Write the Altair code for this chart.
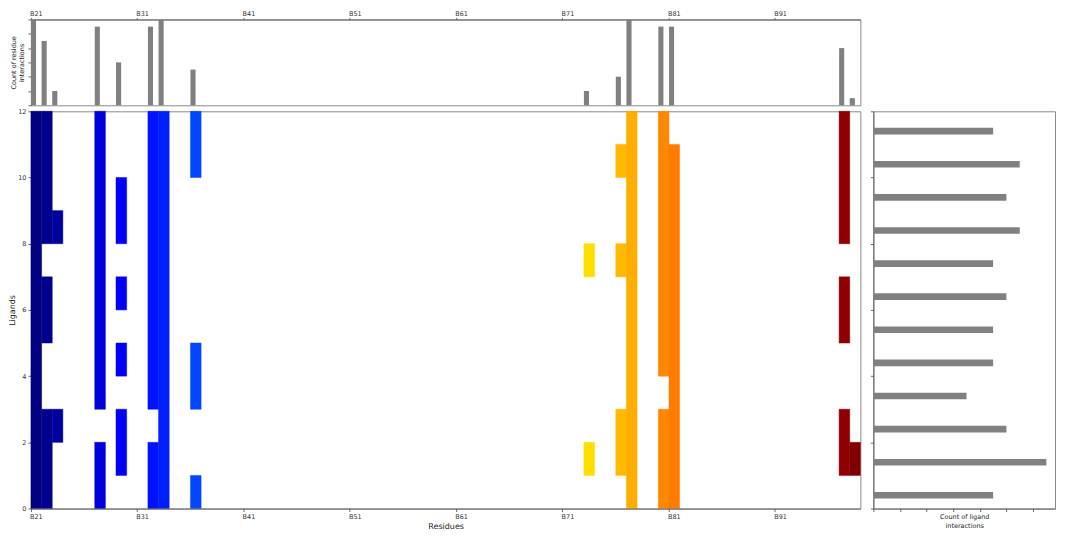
import altair as alt
import numpy as np
import pandas as pd

# ---------------- data ----------------
all_residues = [f"B{n}" for n in range(21, 99)]          # residue axis B21..B98
tick_labels = ["B21", "B31", "B41", "B51", "B61", "B71", "B81", "B91"]

interacting_residues = ["B21", "B22", "B23", "B27", "B29", "B32", "B33", "B36",
                        "B73", "B76", "B77", "B80", "B81", "B97", "B98"]
ligand_sets = [
    [0, 1, 2, 3, 4, 5, 6, 7, 8, 9, 10, 11],
    [0, 1, 2, 5, 6, 8, 9, 10, 11],
    [2, 8],
    [0, 1, 3, 4, 5, 6, 7, 8, 9, 10, 11],
    [1, 2, 4, 6, 8, 9],
    [0, 1, 3, 4, 5, 6, 7, 8, 9, 10, 11],
    [0, 1, 2, 3, 4, 5, 6, 7, 8, 9, 10, 11],
    [0, 3, 4, 10, 11],
    [1, 7],
    [1, 2, 7, 10],
    [0, 1, 2, 3, 4, 5, 6, 7, 8, 9, 10, 11],
    [0, 1, 2, 4, 5, 6, 7, 8, 9, 10, 11],
    [0, 1, 2, 3, 4, 5, 6, 7, 8, 9, 10],
    [1, 2, 5, 6, 8, 9, 10, 11],
    [1],
]
residue_counts = [12, 9, 2, 11, 6, 11, 12, 5, 2, 4, 12, 11, 11, 8, 1]

ligands = list(range(12))
ligand_counts = [9, 13, 10, 7, 9, 9, 10, 9, 11, 10, 11, 9]

# ---------------- styling helpers ----------------
def jet(t):
    r = np.interp(t, [0, 0.35, 0.66, 0.89, 1], [0, 0, 1, 1, 0.5])
    g = np.interp(t, [0, 0.125, 0.375, 0.64, 0.91, 1], [0, 0, 1, 1, 0, 0])
    b = np.interp(t, [0, 0.11, 0.34, 0.65, 1], [0.5, 1, 1, 0, 0])
    return "#%02x%02x%02x" % (int(round(r * 255)), int(round(g * 255)), int(round(b * 255)))

n_res = len(all_residues)
jet_colors = [jet(i / (n_res - 1)) for i in range(n_res)]

W_MAIN = 831
H_MAIN = 398
H_TOP = 86
W_RIGHT = 182
band = W_MAIN / n_res
BAR_FRAC = 0.48

# merge consecutive ligand rows into runs (avoids seams between cells)
heat_rows = []
for res, ligs in zip(interacting_residues, ligand_sets):
    start = prev = ligs[0]
    for lg in ligs[1:] + [None]:
        if lg is not None and lg == prev + 1:
            prev = lg
            continue
        heat_rows.append({"residue": res, "y0": start, "y1": prev + 1})
        if lg is not None:
            start = prev = lg
heat_df = pd.DataFrame(heat_rows)
top_df = pd.DataFrame({"residue": interacting_residues, "count": residue_counts})
right_df = pd.DataFrame({"ligand": ligands, "count": ligand_counts})

x_scale = alt.Scale(domain=all_residues, paddingInner=0, paddingOuter=0)
color_scale = alt.Scale(domain=all_residues, range=jet_colors)
even_ticks = [0, 2, 4, 6, 8, 10, 12]

# ---------------- top: residue interaction counts ----------------
top = alt.Chart(top_df).mark_bar(
    color="#808080",
    width=alt.RelativeBandSize(BAR_FRAC),
    xOffset=-(0.5 - BAR_FRAC / 2) * band,
).encode(
    x=alt.X("residue:N", scale=x_scale,
            axis=alt.Axis(orient="top", values=tick_labels, bandPosition=0,
                          labelAngle=0, title=None, tickSize=2, labelPadding=1)),
    y=alt.Y("count:Q", scale=alt.Scale(domain=[0, 12], nice=False),
            axis=alt.Axis(values=even_ticks, labels=False,
                          title=["Count of residue", "interactions"],
                          titleFontSize=6.5, titlePadding=3)),
).properties(width=W_MAIN, height=H_TOP)

# ---------------- main heatmap ----------------
main = alt.Chart(heat_df).mark_rect(opacity=1, strokeWidth=0.5).encode(
    x=alt.X("residue:N", scale=x_scale,
            axis=alt.Axis(values=tick_labels, bandPosition=0, labelAngle=0,
                          title="Residues")),
    y=alt.Y("y0:Q", scale=alt.Scale(domain=[0, 12], nice=False),
            axis=alt.Axis(values=even_ticks, title="Ligands", titlePadding=1)),
    y2="y1:Q",
    color=alt.Color("residue:N", scale=color_scale, legend=None),
    stroke=alt.Stroke("residue:N", scale=color_scale, legend=None),
).properties(width=W_MAIN, height=H_MAIN)

# ---------------- right: ligand interaction counts ----------------
right = alt.Chart(right_df).transform_calculate(
    y0="datum.ligand + 0.3", y1="datum.ligand + 0.5", zero="0"
).mark_rect(color="#808080").encode(
    x=alt.X("count:Q", scale=alt.Scale(domain=[0, 13.65], nice=False),
            axis=alt.Axis(values=even_ticks, labels=False,
                          title=["Count of ligand", "interactions"],
                          titleFontSize=6.5)),
    x2="zero:Q",
    y=alt.Y("y0:Q", scale=alt.Scale(domain=[0, 12], nice=False),
            axis=alt.Axis(values=even_ticks, labels=False, title=None)),
    y2="y1:Q",
).properties(width=W_RIGHT, height=H_MAIN)

chart = alt.vconcat(
    top,
    alt.hconcat(main, right, spacing=13, bounds="flush"),
    spacing=6,
    bounds="flush",
).properties(padding={"left": 0, "top": 1, "right": 1, "bottom": 0}).configure(
    font="DejaVu Sans",
).configure_view(
    stroke="#8a8a8a", strokeWidth=1,
).configure_axis(
    domainColor="#666666", domainWidth=1,
    tickColor="#444444", tickSize=3, tickWidth=0.8,
    labelFontSize=6.5, labelColor="#333333", labelPadding=2,
    titleFontSize=8, titleFontWeight="normal", titleColor="#222222",
    titlePadding=2, grid=False,
)

chart.save("out.html", embed_options={"renderer": "svg", "actions": False})
